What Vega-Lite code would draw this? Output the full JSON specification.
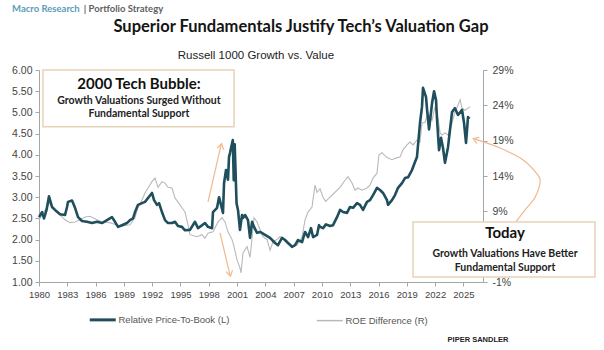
{
  "$schema": "https://vega.github.io/schema/vega-lite/v6.json",
  "width": 444,
  "height": 212,
  "autosize": {"type": "none"},
  "padding": {"left": 39, "top": 70, "right": 121, "bottom": 68},
  "background": "white",
  "data": {"values": [{}]},
  "datasets": {
    "pb": [
      {"year":1980.00,"pb":2.53},{"year":1980.32,"pb":2.65},{"year":1980.53,"pb":2.50},{"year":1980.80,"pb":2.70},{"year":1981.06,"pb":3.02},{"year":1981.38,"pb":2.77},{"year":1981.70,"pb":2.70},{"year":1982.23,"pb":2.60},{"year":1982.76,"pb":2.58},{"year":1982.97,"pb":2.77},{"year":1983.08,"pb":2.89},{"year":1983.50,"pb":2.92},{"year":1983.82,"pb":2.75},{"year":1984.14,"pb":2.53},{"year":1984.56,"pb":2.44},{"year":1985.09,"pb":2.42},{"year":1985.62,"pb":2.39},{"year":1986.15,"pb":2.42},{"year":1986.68,"pb":2.39},{"year":1987.21,"pb":2.46},{"year":1987.74,"pb":2.53},{"year":1988.06,"pb":2.42},{"year":1988.38,"pb":2.30},{"year":1988.80,"pb":2.34},{"year":1989.33,"pb":2.39},{"year":1989.65,"pb":2.46},{"year":1989.97,"pb":2.50},{"year":1990.18,"pb":2.65},{"year":1990.50,"pb":2.82},{"year":1990.92,"pb":2.86},{"year":1991.24,"pb":2.89},{"year":1991.56,"pb":2.98},{"year":1991.98,"pb":3.10},{"year":1992.20,"pb":2.93},{"year":1992.51,"pb":2.82},{"year":1992.73,"pb":2.86},{"year":1993.04,"pb":2.65},{"year":1993.36,"pb":2.46},{"year":1993.68,"pb":2.39},{"year":1994.10,"pb":2.39},{"year":1994.42,"pb":2.42},{"year":1994.74,"pb":2.32},{"year":1995.16,"pb":2.30},{"year":1995.48,"pb":2.22},{"year":1996.01,"pb":2.23},{"year":1996.54,"pb":2.42},{"year":1996.86,"pb":2.27},{"year":1997.29,"pb":2.34},{"year":1997.60,"pb":2.39},{"year":1997.92,"pb":2.30},{"year":1998.35,"pb":2.27},{"year":1998.45,"pb":2.65},{"year":1998.88,"pb":2.75},{"year":1999.09,"pb":3.00},{"year":1999.30,"pb":2.82},{"year":1999.51,"pb":2.63},{"year":1999.62,"pb":3.33},{"year":1999.83,"pb":3.64},{"year":2000.04,"pb":3.41},{"year":2000.15,"pb":3.95},{"year":2000.25,"pb":4.04},{"year":2000.45,"pb":4.25},{"year":2000.55,"pb":4.35},{"year":2000.65,"pb":3.40},{"year":2000.75,"pb":4.25},{"year":2000.95,"pb":2.85},{"year":2001.10,"pb":2.70},{"year":2001.31,"pb":2.23},{"year":2001.53,"pb":2.58},{"year":2001.63,"pb":2.51},{"year":2001.85,"pb":2.58},{"year":2002.16,"pb":2.46},{"year":2002.38,"pb":2.04},{"year":2002.59,"pb":2.42},{"year":2002.80,"pb":2.30},{"year":2003.12,"pb":2.16},{"year":2003.44,"pb":2.18},{"year":2003.97,"pb":2.11},{"year":2004.50,"pb":2.04},{"year":2005.03,"pb":1.92},{"year":2005.34,"pb":1.87},{"year":2005.77,"pb":2.04},{"year":2006.09,"pb":1.99},{"year":2006.41,"pb":1.92},{"year":2006.83,"pb":1.83},{"year":2007.15,"pb":1.87},{"year":2007.47,"pb":1.99},{"year":2007.89,"pb":1.94},{"year":2008.21,"pb":2.18},{"year":2008.53,"pb":2.06},{"year":2008.84,"pb":2.27},{"year":2009.06,"pb":2.06},{"year":2009.48,"pb":2.11},{"year":2009.69,"pb":2.34},{"year":2009.80,"pb":2.30},{"year":2010.12,"pb":2.27},{"year":2010.43,"pb":2.36},{"year":2010.86,"pb":2.32},{"year":2011.18,"pb":2.34},{"year":2011.60,"pb":2.53},{"year":2011.92,"pb":2.70},{"year":2012.24,"pb":2.65},{"year":2012.66,"pb":2.63},{"year":2012.98,"pb":2.77},{"year":2013.30,"pb":2.75},{"year":2013.72,"pb":2.86},{"year":2014.04,"pb":2.82},{"year":2014.36,"pb":2.70},{"year":2014.78,"pb":2.89},{"year":2015.10,"pb":2.93},{"year":2015.42,"pb":3.05},{"year":2015.84,"pb":3.22},{"year":2016.16,"pb":3.17},{"year":2016.48,"pb":3.10},{"year":2016.90,"pb":2.93},{"year":2017.01,"pb":2.82},{"year":2017.43,"pb":2.93},{"year":2017.75,"pb":3.05},{"year":2018.07,"pb":3.22},{"year":2018.49,"pb":3.33},{"year":2018.81,"pb":3.45},{"year":2019.13,"pb":3.47},{"year":2019.55,"pb":3.64},{"year":2019.87,"pb":3.83},{"year":2020.08,"pb":3.95},{"year":2020.19,"pb":4.23},{"year":2020.40,"pb":4.75},{"year":2020.61,"pb":5.13},{"year":2020.72,"pb":5.58},{"year":2021.04,"pb":5.36},{"year":2021.15,"pb":5.06},{"year":2021.36,"pb":4.60},{"year":2021.68,"pb":5.22},{"year":2021.89,"pb":5.50},{"year":2022.10,"pb":5.29},{"year":2022.21,"pb":4.82},{"year":2022.42,"pb":4.11},{"year":2022.63,"pb":4.40},{"year":2022.84,"pb":4.16},{"year":2023.05,"pb":3.81},{"year":2023.37,"pb":4.18},{"year":2023.80,"pb":5.01},{"year":2024.11,"pb":5.10},{"year":2024.43,"pb":4.94},{"year":2024.86,"pb":5.06},{"year":2025.07,"pb":4.75},{"year":2025.28,"pb":4.28},{"year":2025.49,"pb":4.89},{"year":2025.65,"pb":4.85}
    ],
    "roe": [
      {"year":1980.00,"roe":7.8},{"year":1980.53,"roe":8.9},{"year":1981.06,"roe":10.2},{"year":1981.70,"roe":9.2},{"year":1982.23,"roe":8.5},{"year":1982.76,"roe":7.8},{"year":1983.29,"roe":7.4},{"year":1983.82,"roe":7.5},{"year":1984.35,"roe":7.8},{"year":1984.88,"roe":8.2},{"year":1985.41,"roe":8.3},{"year":1986.15,"roe":7.8},{"year":1986.68,"roe":7.5},{"year":1987.53,"roe":7.4},{"year":1988.59,"roe":6.9},{"year":1989.65,"roe":7.1},{"year":1990.18,"roe":8.1},{"year":1990.50,"roe":9.6},{"year":1990.92,"roe":10.6},{"year":1991.24,"roe":11.6},{"year":1991.56,"roe":12.3},{"year":1991.98,"roe":13.2},{"year":1992.30,"roe":13.7},{"year":1992.62,"roe":12.4},{"year":1993.04,"roe":13.2},{"year":1993.36,"roe":13.0},{"year":1993.68,"roe":12.4},{"year":1994.10,"roe":12.3},{"year":1994.42,"roe":10.9},{"year":1994.74,"roe":10.3},{"year":1995.16,"roe":9.5},{"year":1995.48,"roe":8.9},{"year":1995.80,"roe":7.1},{"year":1996.01,"roe":5.7},{"year":1996.75,"roe":5.4},{"year":1997.29,"roe":5.7},{"year":1997.60,"roe":5.2},{"year":1997.92,"roe":5.9},{"year":1998.45,"roe":6.1},{"year":1998.99,"roe":7.5},{"year":1999.41,"roe":8.1},{"year":1999.72,"roe":7.5},{"year":2000.04,"roe":6.1},{"year":2000.47,"roe":5.0},{"year":2000.68,"roe":4.0},{"year":2001.00,"roe":2.1},{"year":2001.31,"roe":1.0},{"year":2001.42,"roe":0.3},{"year":2001.63,"roe":3.1},{"year":2002.06,"roe":4.0},{"year":2002.38,"roe":2.5},{"year":2002.59,"roe":5.2},{"year":2002.80,"roe":8.1},{"year":2003.12,"roe":7.5},{"year":2003.44,"roe":6.4},{"year":2003.76,"roe":5.4},{"year":2004.18,"roe":5.0},{"year":2004.50,"roe":3.5},{"year":2004.82,"roe":4.7},{"year":2005.24,"roe":5.0},{"year":2005.56,"roe":5.4},{"year":2005.87,"roe":5.2},{"year":2006.30,"roe":4.5},{"year":2006.83,"roe":4.0},{"year":2007.36,"roe":4.2},{"year":2007.89,"roe":5.4},{"year":2008.21,"roe":7.8},{"year":2008.53,"roe":8.9},{"year":2008.95,"roe":9.6},{"year":2009.27,"roe":12.7},{"year":2009.48,"roe":11.7},{"year":2009.80,"roe":12.2},{"year":2010.12,"roe":11.0},{"year":2010.40,"roe":10.4},{"year":2010.86,"roe":11.0},{"year":2011.39,"roe":11.7},{"year":2011.92,"roe":12.4},{"year":2012.45,"roe":13.4},{"year":2012.77,"roe":13.9},{"year":2013.19,"roe":13.0},{"year":2013.51,"roe":12.0},{"year":2013.82,"roe":12.3},{"year":2014.25,"roe":12.0},{"year":2014.78,"roe":12.3},{"year":2015.10,"roe":12.7},{"year":2015.42,"roe":13.7},{"year":2015.84,"roe":14.4},{"year":2016.05,"roe":17.0},{"year":2016.37,"roe":17.3},{"year":2016.90,"roe":16.6},{"year":2017.43,"roe":16.3},{"year":2017.96,"roe":16.6},{"year":2018.28,"roe":16.7},{"year":2018.60,"roe":17.7},{"year":2019.02,"roe":18.4},{"year":2019.34,"roe":18.8},{"year":2019.66,"roe":18.4},{"year":2020.08,"roe":19.1},{"year":2020.40,"roe":18.8},{"year":2020.61,"roe":21.5},{"year":2020.93,"roe":21.6},{"year":2021.25,"roe":22.9},{"year":2021.68,"roe":21.9},{"year":2021.99,"roe":23.8},{"year":2022.31,"roe":22.2},{"year":2022.53,"roe":20.1},{"year":2022.74,"roe":19.8},{"year":2023.05,"roe":20.1},{"year":2023.37,"roe":19.8},{"year":2023.80,"roe":21.5},{"year":2024.11,"roe":23.1},{"year":2024.43,"roe":24.0},{"year":2024.65,"roe":24.8},{"year":2024.86,"roe":23.6},{"year":2025.17,"roe":23.3},{"year":2025.49,"roe":23.6},{"year":2025.71,"roe":23.8}
    ],
    "todayArrow": [
      {"step":1,"year":2030.48,"level":2.39},{"step":2,"year":2031.54,"level":2.70},{"step":3,"year":2032.60,"level":3.00},{"step":4,"year":2033.13,"level":3.36},{"step":5,"year":2032.81,"level":3.55},{"step":6,"year":2031.33,"level":3.88},{"step":7,"year":2028.89,"level":4.16},{"step":8,"year":2026.24,"level":4.37}
    ]
  },
  "layer": [
    {
      "data": {"name": "roe"},
      "mark": {"type": "line", "strokeWidth": 1.1, "clip": false},
      "encoding": {
        "x": {"field": "year", "type": "quantitative", "scale": {"domain": [1980, 2027.08], "nice": false, "zero": false},
              "axis": {"values": [1980,1983,1986,1989,1992,1995,1998,2001,2004,2007,2010,2013,2016,2019,2022,2025], "format": "d", "title": null, "labelFlush": false, "labelOverlap": false, "labelPadding": 3, "labelFontSize": 9.5}},
        "y": {"field": "roe", "type": "quantitative", "scale": {"domain": [-1, 29], "nice": false, "zero": false},
              "axis": {"orient": "right", "values": [-1,4,9,14,19,24,29], "labelExpr": "datum.value + '%'", "title": null, "labelPadding": 5}},
        "color": {"datum": "ROE Difference (R)", "type": "nominal",
                  "scale": {"domain": ["Relative Price-To-Book (L)", "ROE Difference (R)"], "range": ["#1f4e5c", "#b9b9b9"]},
                  "legend": {"orient": "none", "legendX": 59, "legendY": 245, "direction": "horizontal", "title": null,
                             "symbolType": "stroke", "symbolSize": 676, "symbolStrokeWidth": 3, "columnPadding": 83, "labelOffset": 11, "padding": 0,
                             "labelFont": "'Liberation Sans Narrow', 'Liberation Sans', Arial", "labelFontSize": 9.5, "labelColor": "#555",
                             "encode": {"symbols": {"update": {"strokeWidth": {"signal": "datum.value === 'ROE Difference (R)' ? 1.5 : 3"}}}}}}
      }
    },
    {
      "data": {"name": "pb"},
      "mark": {"type": "line", "strokeWidth": 2.6, "strokeJoin": "round", "clip": false},
      "encoding": {
        "x": {"field": "year", "type": "quantitative", "scale": {"domain": [1980, 2027.08], "nice": false, "zero": false}, "axis": null},
        "y": {"field": "pb", "type": "quantitative", "scale": {"domain": [1, 6], "nice": false, "zero": false},
              "axis": {"orient": "left", "values": [1,1.5,2,2.5,3,3.5,4,4.5,5,5.5,6], "format": ".2f", "title": null, "labelPadding": 3}},
        "color": {"datum": "Relative Price-To-Book (L)", "type": "nominal"}
      }
    },
    {
      "mark": {"type": "rule", "color": "#f0b88c", "strokeWidth": 1.2, "clip": false},
      "encoding": {
        "x": {"datum": 1997.92, "type": "quantitative", "scale": {"domain": [1980, 2027.08], "nice": false, "zero": false}, "axis": null},
        "x2": {"datum": 1999.30},
        "y": {"datum": 2.89, "type": "quantitative", "scale": {"domain": [1, 6], "nice": false, "zero": false}, "axis": null},
        "y2": {"datum": 4.23}
      }
    },
    {
      "mark": {"type": "rule", "color": "#f0b88c", "strokeWidth": 1.2, "clip": false},
      "encoding": {
        "x": {"datum": 1999.19, "type": "quantitative", "scale": {"domain": [1980, 2027.08], "nice": false, "zero": false}, "axis": null},
        "x2": {"datum": 2000.25},
        "y": {"datum": 2.16, "type": "quantitative", "scale": {"domain": [1, 6], "nice": false, "zero": false}, "axis": null},
        "y2": {"datum": 1.17}
      }
    },
    {
      "data": {"name": "todayArrow"},
      "mark": {"type": "line", "color": "#f0b88c", "strokeWidth": 1.2, "interpolate": "cardinal", "clip": false},
      "encoding": {
        "x": {"field": "year", "type": "quantitative", "scale": {"domain": [1980, 2027.08], "nice": false, "zero": false}, "axis": null},
        "y": {"field": "level", "type": "quantitative", "scale": {"domain": [1, 6], "nice": false, "zero": false}, "axis": null},
        "order": {"field": "step", "type": "quantitative"}
      }
    },
    {
      "mark": {"type": "point", "shape": "M-1,0.8L0,-0.8L1,0.8", "filled": false, "color": "#f0b88c", "strokeWidth": 1.2, "size": 45, "angle": 13, "opacity": 1, "clip": false},
      "encoding": {
        "x": {"datum": 1999.30, "type": "quantitative", "scale": {"domain": [1980, 2027.08], "nice": false, "zero": false}, "axis": null},
        "y": {"datum": 4.20, "type": "quantitative", "scale": {"domain": [1, 6], "nice": false, "zero": false}, "axis": null}
      }
    },
    {
      "mark": {"type": "point", "shape": "M-1,0.8L0,-0.8L1,0.8", "filled": false, "color": "#f0b88c", "strokeWidth": 1.2, "size": 45, "angle": 167, "opacity": 1, "clip": false},
      "encoding": {
        "x": {"datum": 2000.24, "type": "quantitative", "scale": {"domain": [1980, 2027.08], "nice": false, "zero": false}, "axis": null},
        "y": {"datum": 1.20, "type": "quantitative", "scale": {"domain": [1, 6], "nice": false, "zero": false}, "axis": null}
      }
    },
    {
      "mark": {"type": "point", "shape": "M-1,0.8L0,-0.8L1,0.8", "filled": false, "color": "#f0b88c", "strokeWidth": 1.2, "size": 45, "angle": 290, "opacity": 1, "clip": false},
      "encoding": {
        "x": {"datum": 2026.30, "type": "quantitative", "scale": {"domain": [1980, 2027.08], "nice": false, "zero": false}, "axis": null},
        "y": {"datum": 4.36, "type": "quantitative", "scale": {"domain": [1, 6], "nice": false, "zero": false}, "axis": null}
      }
    },
    {
      "mark": {"type": "rect", "fill": "white", "stroke": "#e6d3b8", "strokeWidth": 1.5, "clip": false},
      "encoding": {
        "x": {"datum": 1980.42, "type": "quantitative", "scale": {"domain": [1980, 2027.08], "nice": false, "zero": false}, "axis": null},
        "x2": {"datum": 2000.68},
        "y": {"datum": 6.0, "type": "quantitative", "scale": {"domain": [1, 6], "nice": false, "zero": false}, "axis": null},
        "y2": {"datum": 4.66}
      }
    },
    {
      "mark": {"type": "rect", "fill": "white", "stroke": "#e6d3b8", "strokeWidth": 1.5, "clip": false},
      "encoding": {
        "x": {"datum": 2019.66, "type": "quantitative", "scale": {"domain": [1980, 2027.08], "nice": false, "zero": false}, "axis": null},
        "x2": {"datum": 2038.96},
        "y": {"datum": 2.415, "type": "quantitative", "scale": {"domain": [1, 6], "nice": false, "zero": false}, "axis": null},
        "y2": {"datum": 1.118}
      }
    },
    {
      "mark": {"type": "text", "font": "Lato", "fontWeight": "bold", "fontSize": 15, "color": "#111", "align": "center", "baseline": "middle", "clip": false},
      "encoding": {
        "x": {"datum": 1990.6, "type": "quantitative", "scale": {"domain": [1980, 2027.08], "nice": false, "zero": false}, "axis": null},
        "y": {"datum": 5.67, "type": "quantitative", "scale": {"domain": [1, 6], "nice": false, "zero": false}, "axis": null},
        "text": {"value": "2000 Tech Bubble:"}
      }
    },
    {
      "mark": {"type": "text", "font": "Lato", "fontWeight": "bold", "fontSize": 10.5, "color": "#222", "align": "center", "baseline": "middle", "lineHeight": 13.5, "clip": false},
      "encoding": {
        "x": {"datum": 1990.6, "type": "quantitative", "scale": {"domain": [1980, 2027.08], "nice": false, "zero": false}, "axis": null},
        "y": {"datum": 5.27, "type": "quantitative", "scale": {"domain": [1, 6], "nice": false, "zero": false}, "axis": null},
        "text": {"value": ["Growth Valuations Surged Without", "Fundamental Support"]}
      }
    },
    {
      "mark": {"type": "text", "font": "Lato", "fontWeight": "bold", "fontSize": 15, "color": "#111", "align": "center", "baseline": "middle", "clip": false},
      "encoding": {
        "x": {"datum": 2029.42, "type": "quantitative", "scale": {"domain": [1980, 2027.08], "nice": false, "zero": false}, "axis": null},
        "y": {"datum": 2.15, "type": "quantitative", "scale": {"domain": [1, 6], "nice": false, "zero": false}, "axis": null},
        "text": {"value": "Today"}
      }
    },
    {
      "mark": {"type": "text", "font": "Lato", "fontWeight": "bold", "fontSize": 10.5, "color": "#222", "align": "center", "baseline": "middle", "lineHeight": 14, "clip": false},
      "encoding": {
        "x": {"datum": 2029.42, "type": "quantitative", "scale": {"domain": [1980, 2027.08], "nice": false, "zero": false}, "axis": null},
        "y": {"datum": 1.67, "type": "quantitative", "scale": {"domain": [1, 6], "nice": false, "zero": false}, "axis": null},
        "text": {"value": ["Growth Valuations Have Better", "Fundamental Support"]}
      }
    },
    {
      "mark": {"type": "text", "font": "Lato", "fontWeight": "bold", "fontSize": 16.5, "color": "#151515", "align": "center", "baseline": "middle", "clip": false},
      "encoding": {
        "x": {"datum": 2007.78, "type": "quantitative", "scale": {"domain": [1980, 2027.08], "nice": false, "zero": false}, "axis": null},
        "y": {"datum": 7.01, "type": "quantitative", "scale": {"domain": [1, 6], "nice": false, "zero": false}, "axis": null},
        "text": {"value": "Superior Fundamentals Justify Tech’s Valuation Gap"}
      }
    },
    {
      "mark": {"type": "text", "font": "Lato", "fontWeight": "bold", "fontSize": 9.5, "color": "#5a9db5", "align": "left", "baseline": "middle", "clip": false},
      "encoding": {
        "x": {"datum": 1977.14, "type": "quantitative", "scale": {"domain": [1980, 2027.08], "nice": false, "zero": false}, "axis": null},
        "y": {"datum": 7.44, "type": "quantitative", "scale": {"domain": [1, 6], "nice": false, "zero": false}, "axis": null},
        "text": {"value": "Macro Research"}
      }
    },
    {
      "mark": {"type": "text", "font": "Lato", "fontWeight": "bold", "fontSize": 9.5, "color": "#5f5f5f", "align": "left", "baseline": "middle", "clip": false},
      "encoding": {
        "x": {"datum": 1984.75, "type": "quantitative", "scale": {"domain": [1980, 2027.08], "nice": false, "zero": false}, "axis": null},
        "y": {"datum": 7.44, "type": "quantitative", "scale": {"domain": [1, 6], "nice": false, "zero": false}, "axis": null},
        "text": {"value": "|   Portfolio Strategy"}
      }
    },
    {
      "mark": {"type": "text", "font": "'Liberation Sans Narrow', 'Liberation Sans', Arial", "fontSize": 11.5, "color": "#222", "align": "center", "baseline": "middle", "clip": false},
      "encoding": {
        "x": {"datum": 2003.0, "type": "quantitative", "scale": {"domain": [1980, 2027.08], "nice": false, "zero": false}, "axis": null},
        "y": {"datum": 6.33, "type": "quantitative", "scale": {"domain": [1, 6], "nice": false, "zero": false}, "axis": null},
        "text": {"value": "Russell 1000 Growth vs. Value"}
      }
    },
    {
      "mark": {"type": "text", "font": "'Liberation Sans Narrow', 'Liberation Sans', Arial", "fontWeight": "bold", "fontSize": 7.5, "color": "#222", "align": "center", "baseline": "middle", "clip": false},
      "encoding": {
        "x": {"datum": 2026.55, "type": "quantitative", "scale": {"domain": [1980, 2027.08], "nice": false, "zero": false}, "axis": null},
        "y": {"datum": -0.37, "type": "quantitative", "scale": {"domain": [1, 6], "nice": false, "zero": false}, "axis": null},
        "text": {"value": "PIPER  SANDLER"}
      }
    }
  ],
  "resolve": {"scale": {"y": "independent"}, "axis": {"x": "independent"}},
  "config": {
    "view": {"stroke": null},
    "axis": {"grid": false, "domainColor": "#a6a6a6", "tickColor": "#a6a6a6", "tickSize": 4, "labelColor": "#444",
             "labelFont": "'Liberation Sans Narrow', 'Liberation Sans', Arial", "labelFontSize": 10.5},
    "axisX": {"labelOverlap": false, "labelFontSize": 9.5}
  }
}
